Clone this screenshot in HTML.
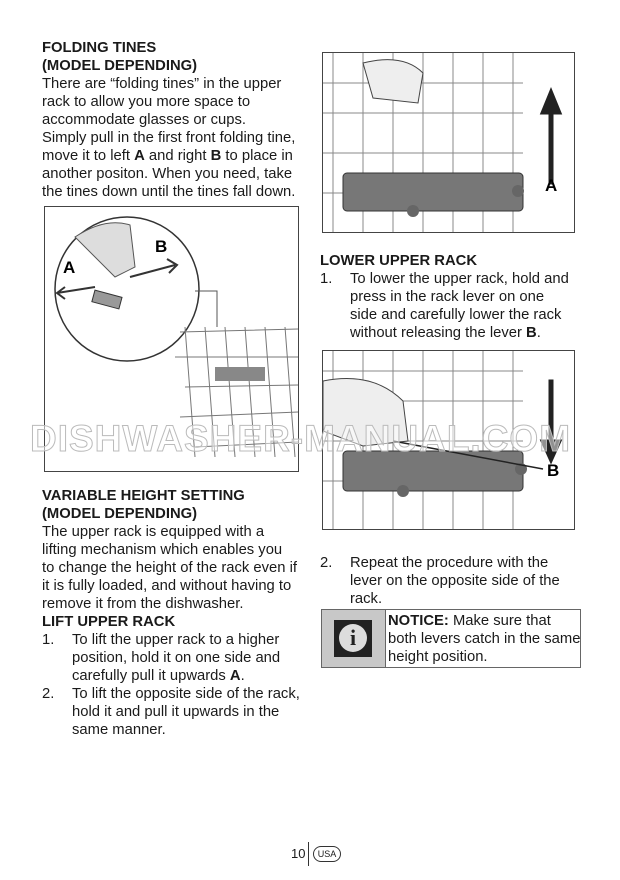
<!DOCTYPE html>
<html><head><style>
body{margin:0;width:620px;height:880px;background:#fff;position:relative;font-family:"Liberation Sans",Arial,sans-serif;color:#1a1a1a;overflow:hidden}
.t{position:absolute;font-size:14.8px;line-height:18px;white-space:nowrap}
b{font-weight:bold}
.li{position:relative;padding-left:30px}
.li span{position:absolute;left:0}
.box{position:absolute;border:1px solid #444;background:#fff}
</style></head><body>
<div class="t" style="left:42px;top:39px">
<b>FOLDING TINES<br>(MODEL DEPENDING)</b><br>
There are “folding tines” in the upper<br>rack to allow you more space to<br>accommodate glasses or cups.<br>
Simply pull in the first front folding tine,<br>move it to left <b>A</b> and right <b>B</b> to place in<br>another positon. When you need, take<br>the tines down until the tines fall down.
</div>

<div class="box" style="left:44px;top:206px;width:253px;height:264px">
<svg width="253" height="264">
<circle cx="82" cy="82" r="72" fill="#fff" stroke="#333" stroke-width="1.5"/>
<path d="M30 30 Q60 10 85 18 L90 60 L70 70 Z" fill="#ddd" stroke="#555"/>
<rect x="48" y="86" width="28" height="12" fill="#999" stroke="#333" transform="rotate(15 60 92)"/>
<path d="M12 86 L50 80 M20 80 L12 86 L20 92" stroke="#333" stroke-width="2" fill="none"/>
<path d="M85 70 L130 58 M122 52 L132 58 L124 66" stroke="#333" stroke-width="2" fill="none"/>
<text x="18" y="66" font-size="17" font-weight="bold" font-family="Liberation Sans">A</text>
<text x="110" y="45" font-size="17" font-weight="bold" font-family="Liberation Sans">B</text>
<path d="M150 84 L172 84 L172 120" stroke="#555" fill="none"/>
<g stroke="#777" fill="none">
<path d="M135 125 L253 122 M130 150 L253 150 M140 180 L253 178 M135 210 L253 205 M150 240 L253 235"/>
<path d="M140 120 L150 250 M160 120 L170 250 M180 120 L190 250 M200 120 L210 250 M220 120 L230 250 M240 120 L250 250"/>
</g>
<rect x="170" y="160" width="50" height="14" fill="#888"/>
</svg></div>

<div class="t" style="left:42px;top:487px">
<b>VARIABLE HEIGHT SETTING<br>(MODEL DEPENDING)</b><br>
The upper rack is equipped with a<br>lifting mechanism which enables you<br>to change the height of the rack even if<br>it is fully loaded, and without having to<br>remove it from the dishwasher.<br>
<b>LIFT UPPER RACK</b>
<div class="li"><span>1.</span>To lift the upper rack to a higher<br>position, hold it on one side and<br>carefully pull it upwards <b>A</b>.</div>
<div class="li"><span>2.</span>To lift the opposite side of the rack,<br>hold it and pull it upwards in the<br>same manner.</div>
</div>

<div class="box" style="left:322px;top:52px;width:251px;height:179px">
<svg width="251" height="179">
<g stroke="#888" fill="none"><path d="M0 30 L200 30 M0 60 L200 60 M0 100 L200 100 M0 140 L200 140"/>
<path d="M10 0 L10 179 M40 0 L40 179 M70 0 L70 179 M100 0 L100 179 M130 0 L130 179 M160 0 L160 179 M190 0 L190 179"/></g>
<path d="M40 10 Q80 0 100 20 L95 50 L50 45 Z" fill="#eee" stroke="#444"/>
<rect x="20" y="120" width="180" height="38" rx="4" fill="#777" stroke="#333"/>
<circle cx="90" cy="158" r="6" fill="#666"/><circle cx="195" cy="138" r="6" fill="#666"/>
<path d="M227 130 L227 60 L219 60 L228 38 L237 60 L229 60 L229 130 Z" fill="#222" stroke="#222" stroke-width="3"/>
<text x="222" y="138" font-size="17" font-weight="bold" font-family="Liberation Sans">A</text>
</svg></div>

<div class="t" style="left:320px;top:252px">
<b>LOWER UPPER RACK</b>
<div class="li"><span>1.</span>To lower the upper rack, hold and<br>press in the rack lever on one<br>side and carefully lower the rack<br>without releasing the lever <b>B</b>.</div>
</div>

<div class="box" style="left:322px;top:350px;width:251px;height:178px">
<svg width="251" height="178">
<g stroke="#888" fill="none"><path d="M0 20 L200 20 M0 50 L200 50 M0 90 L200 90 M0 130 L200 130"/>
<path d="M10 0 L10 178 M40 0 L40 178 M70 0 L70 178 M100 0 L100 178 M130 0 L130 178 M160 0 L160 178 M190 0 L190 178"/></g>
<path d="M0 30 Q50 20 80 50 L85 90 L40 95 L0 80 Z" fill="#eee" stroke="#444"/>
<rect x="20" y="100" width="180" height="40" rx="4" fill="#777" stroke="#333"/>
<circle cx="80" cy="140" r="6" fill="#666"/><circle cx="198" cy="118" r="6" fill="#666"/>
<path d="M227 30 L227 90 L219 90 L228 110 L237 90 L229 90 L229 30 Z" fill="#222" stroke="#222" stroke-width="3"/>
<path d="M70 90 L220 118" stroke="#222" stroke-width="1.5"/>
<text x="224" y="125" font-size="17" font-weight="bold" font-family="Liberation Sans">B</text>
</svg></div>

<div class="t" style="left:320px;top:554px">
<div class="li"><span>2.</span>Repeat the procedure with the<br>lever on the opposite side of the<br>rack.</div>
</div>

<div style="position:absolute;left:321px;top:609px;width:258px;height:57px;border:1px solid #666">
<div style="position:absolute;left:0;top:0;width:63px;height:57px;background:#c8c8c8;border-right:1px solid #666">
<div style="position:absolute;left:12px;top:10px;width:38px;height:37px;background:#222">
<div style="position:absolute;left:5px;top:4px;width:28px;height:28px;border-radius:50%;background:#ddd;color:#222;font:bold 22px 'Liberation Serif',serif;text-align:center;line-height:28px">i</div></div></div>
<div class="t" style="left:66px;top:2px"><b>NOTICE:</b> Make sure that<br>both levers catch in the same<br>height position.</div>
</div>

<div style="position:absolute;left:291px;top:846px;font-size:13px">10</div>
<div style="position:absolute;left:308px;top:842px;width:1px;height:24px;background:#333"></div>
<div style="position:absolute;left:313px;top:846px;width:26px;height:14px;border:1px solid #333;border-radius:8px;font-size:9px;text-align:center;line-height:14px">USA</div>

<div style="position:absolute;left:30px;top:418px;width:562px;font-size:37px;font-weight:bold;color:rgba(255,255,255,0.5);-webkit-text-stroke:1px #bbb;letter-spacing:1px;white-space:nowrap;overflow:hidden;z-index:5">DISHWASHER-MANUAL.COM</div>
</body></html>
